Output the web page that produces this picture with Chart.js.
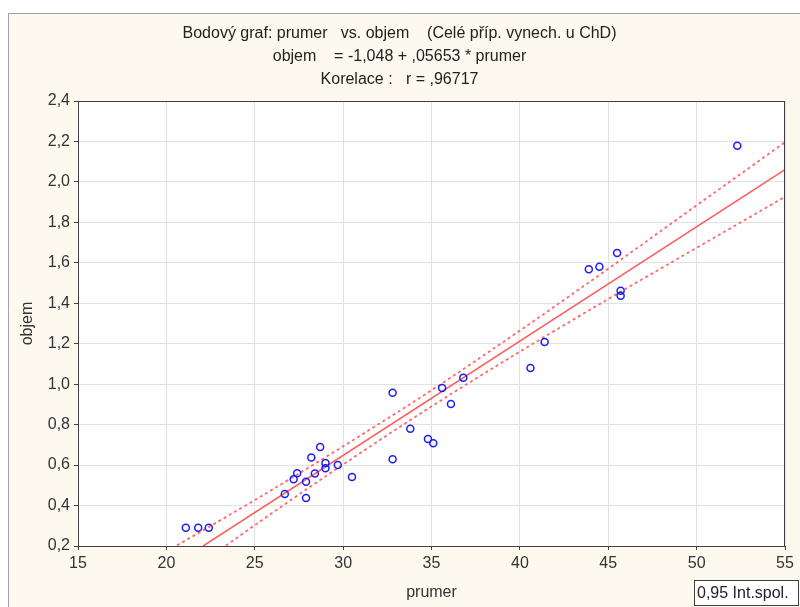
<!DOCTYPE html>
<html>
<head>
<meta charset="utf-8">
<script src="https://cdn.jsdelivr.net/npm/chart.js@4"></script>
<style>
  html, body { margin: 0; padding: 0; background: #fff; }
  #wrap { width: 800px; height: 607px; }
</style>
</head>
<body>
<div id="wrap"><canvas id="myChart" width="800" height="607"></canvas></div>
<script>
// data
const prumer = [21.1, 21.8, 22.4, 26.7, 27.2, 27.4, 27.9, 27.9, 28.2, 28.4, 28.7, 29.0, 29.0, 29.7, 30.5,
  32.8, 32.8, 33.8, 34.8, 35.1, 35.6, 36.1, 36.8, 40.6, 41.4, 43.9, 44.5, 45.5, 45.7, 45.7, 52.3];
const objem = [0.29, 0.29, 0.29, 0.457, 0.53, 0.56, 0.518, 0.437, 0.638, 0.559, 0.689, 0.61, 0.584, 0.60, 0.541,
  0.958, 0.629, 0.78, 0.729, 0.708, 0.981, 0.902, 1.032, 1.08, 1.208, 1.568, 1.581, 1.648, 1.462, 1.437, 2.179];

// regression line objem = -1,048 + ,05653 * prumer (end points)
const fitX = [22.08, 55];
const fitY = [0.2, 2.061];

// 0.95 confidence band
const bandX = [20.6, 25, 30, 35, 40, 45, 50, 55];
const bandUpper = [0.203, 0.427, 0.693, 0.970, 1.265, 1.571, 1.884, 2.196];
const bandLower = [0.029, 0.303, 0.603, 0.890, 1.161, 1.421, 1.674, 1.926];

const xTicks = [15, 20, 25, 30, 35, 40, 45, 50, 55];
const yTicks = [0.2, 0.4, 0.6, 0.8, 1.0, 1.2, 1.4, 1.6, 1.8, 2.0, 2.2, 2.4];

const titleLines = [
  'Bodový graf: prumer   vs. objem    (Celé příp. vynech. u ChD)',
  'objem    = -1,048 + ,05653 * prumer',
  'Korelace :   r = ,96717'
];
const legendText = '0,95 Int.spol.';

const fnt = '"Liberation Sans", Arial, sans-serif';
const fs = 16;
const ctx = document.getElementById('myChart');

const toPts = (xs, ys) => xs.map((x, i) => ({ x: x, y: ys[i] }));

const frame = {
  id: 'frame',
  beforeDraw(chart) {
    const c = chart.ctx;
    const a = chart.chartArea;
    c.save();
    c.fillStyle = '#ffffff';
    c.fillRect(0, 0, chart.width, chart.height);
    c.fillStyle = '#fdf9ef';
    c.fillRect(8, 13, chart.width - 8, chart.height - 13);
    c.strokeStyle = '#a0a0a0';
    c.lineWidth = 1;
    c.beginPath();
    c.moveTo(8.5, chart.height);
    c.lineTo(8.5, 13.5);
    c.lineTo(chart.width, 13.5);
    c.stroke();
    c.fillStyle = '#ffffff';
    c.fillRect(a.left, a.top, a.right - a.left, a.bottom - a.top);
    c.restore();
  },
  afterDraw(chart) {
    const c = chart.ctx;
    const a = chart.chartArea;
    c.save();
    c.strokeStyle = '#404040';
    c.lineWidth = 1;
    c.strokeRect(a.left + 0.5, a.top + 0.5, a.right - a.left - 1, a.bottom - a.top);
    // legend box
    c.fillStyle = '#ffffff';
    c.fillRect(694, 580, 105, 26);
    c.strokeStyle = '#404040';
    c.strokeRect(694.5, 580.5, 104, 25);
    c.fillStyle = '#222';
    c.font = fs + 'px ' + fnt;
    c.textBaseline = 'middle';
    c.fillText(legendText, 697, 594);
    c.restore();
  }
};

new Chart(ctx, {
  type: 'scatter',
  data: {
    datasets: [
      {
        label: 'body',
        data: toPts(prumer, objem),
        pointRadius: 3.5,
        pointHoverRadius: 3.5,
        borderWidth: 1.5,
        borderColor: '#1c1cff',
        backgroundColor: 'rgba(0,0,0,0)'
      },
      {
        label: 'fit',
        data: toPts(fitX, fitY),
        showLine: true,
        pointRadius: 0,
        borderColor: '#ff5a5a',
        borderWidth: 1.5
      },
      {
        label: 'upper',
        data: toPts(bandX, bandUpper),
        showLine: true,
        pointRadius: 0,
        borderColor: '#ff6a6a',
        borderWidth: 1.8,
        borderDash: [3, 3],
        cubicInterpolationMode: 'monotone'
      },
      {
        label: 'lower',
        data: toPts(bandX, bandLower),
        showLine: true,
        pointRadius: 0,
        borderColor: '#ff6a6a',
        borderWidth: 1.8,
        borderDash: [3, 3],
        cubicInterpolationMode: 'monotone'
      }
    ]
  },
  options: {
    responsive: false,
    animation: false,
    layout: { padding: { left: 14, right: 15, top: 13, bottom: 0 } },
    plugins: {
      legend: { display: false },
      tooltip: { enabled: false },
      title: {
        display: true,
        text: titleLines,
        color: '#222',
        font: { family: fnt, size: fs, weight: 'normal', lineHeight: 23 / fs },
        padding: { top: 9, bottom: 10 }
      }
    },
    scales: {
      x: {
        type: 'linear',
        min: 15,
        max: 55,
        afterBuildTicks: (s) => { s.ticks = xTicks.map(v => ({ value: v })); },
        afterFit: (s) => { s.height = 61; },
        grid: { color: '#e2e2e2', tickLength: 4, tickColor: '#404040' },
        border: { color: '#404040' },
        ticks: { color: '#333', padding: 4, font: { family: fnt, size: fs }, maxRotation: 0 },
        title: {
          display: true,
          text: 'prumer',
          color: '#333',
          font: { family: fnt, size: fs },
          padding: { top: 4, bottom: 5 }
        }
      },
      y: {
        type: 'linear',
        min: 0.2,
        max: 2.4,
        afterBuildTicks: (s) => { s.ticks = yTicks.map(v => ({ value: v })); },
        afterFit: (s) => { s.width = 64; },
        grid: { color: '#e2e2e2', tickLength: 4, tickColor: '#404040' },
        border: { color: '#404040' },
        ticks: {
          color: '#333',
          padding: 4,
          font: { family: fnt, size: fs },
          callback: (v) => Number(v).toFixed(1).replace('.', ',')
        },
        title: {
          display: true,
          text: 'objem',
          color: '#333',
          font: { family: fnt, size: fs },
          padding: { top: 4, bottom: 4 }
        }
      }
    }
  },
  plugins: [frame]
});
</script>
</body>
</html>
